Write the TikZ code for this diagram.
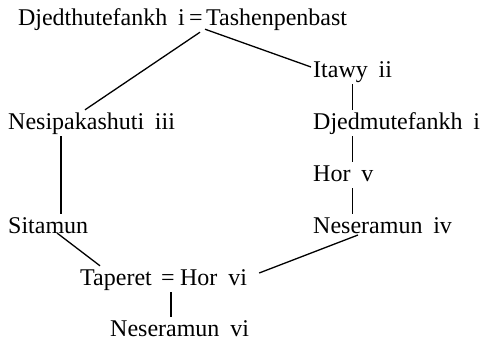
\documentclass[tikz,border=0pt]{standalone}
\usepackage{fontspec}
\setmainfont{Liberation Serif}[WordSpace=1.8]

\tikzset{
  person/.style={anchor=base west, inner sep=0pt, text height=19bp, text depth=7bp},
  wed/.style={anchor=base, inner sep=0pt, text height=19bp, text depth=7bp},
  link/.style={line width=1.3bp}
}

\begin{document}
\begin{tikzpicture}[x=1bp, y=1bp, font=\fontsize{24bp}{28bp}\selectfont]
  \useasboundingbox (0,0) rectangle (487,340);
  \node[wed]    (eqa) at (196,315) {=};
  \node[person, anchor=base east] (djt) at ([xshift=-4bp]eqa.base west) {Djedthutefankh i};
  \node[person] (tsb) at ([xshift=3bp]eqa.base east) {Tashenpenbast};
  \node[person] (itw) at (313,263) {Itawy ii};
  \node[person] (nsp) at (8,211)   {Nesipakashuti iii};
  \node[person] (djm) at (313,211) {Djedmutefankh i};
  \node[person] (hor) at (313,159) {Hor v};
  \node[person] (sit) at (8,107)   {Sitamun};
  \node[person] (nsr) at (313,107) {Neseramun iv};
  \node[person] (tpr) at (80,55)   {Taperet};
  \node[wed]    (eqb) at (168,55)  {=};
  \node[person] (hvi) at ([xshift=5bp]eqb.base east) {Hor vi};
  \node[person] (nsv) at (110,4)   {Neseramun vi};

  \draw[link] ([xshift=4bp]eqa.south) -- ([xshift=77bp]nsp.north west);
  \draw[link] ([shift={(9bp,3bp)}]eqa.south) -- ([shift={(-2bp,4bp)}]itw.west);
  \draw[link] (itw.south) -- (itw.south |- djm.north);
  \draw[link] (itw.south |- djm.south) -- (itw.south |- hor.north);
  \draw[link] (itw.south |- hor.south) -- (itw.south |- nsr.north);
  \draw[link] ([xshift=53bp]nsp.south west) -- ([xshift=53bp]sit.north west);
  \draw[link] ([xshift=49bp]sit.base west) -- ([xshift=20bp]tpr.north west);
  \draw[link] ([shift={(45bp,-2bp)}]nsr.base west) -- ([shift={(12bp,6bp)}]hvi.east);
  \draw[link] ([xshift=3bp]eqb.south) -- ([xshift=3bp]eqb.south |- nsv.north);
\end{tikzpicture}
\end{document}
